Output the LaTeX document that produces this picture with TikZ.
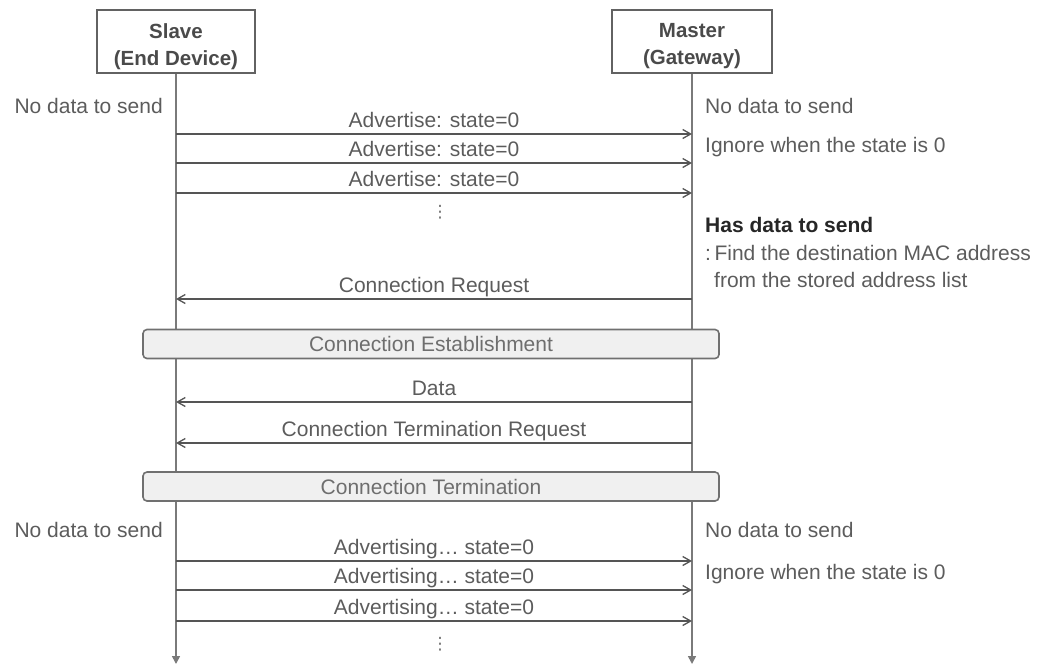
\documentclass[tikz,border=0pt]{standalone}
\usepackage{fontspec}
\setmainfont{Liberation Sans}
\newfontfamily\symfont{DejaVu Sans}
\usetikzlibrary{arrows.meta}
\definecolor{txt}{HTML}{5C5C5C}
\definecolor{hdrtext}{HTML}{4A4A4A}
\definecolor{hdrline}{HTML}{626262}
\definecolor{lifec}{HTML}{7A7A7A}
\definecolor{msgc}{HTML}{555555}
\definecolor{phaseline}{HTML}{707070}
\definecolor{phasefill}{HTML}{F0F0F0}
\definecolor{phasetext}{HTML}{6E6E6E}
\begin{document}
\begin{tikzpicture}[x=1pt,y=-1pt,
  every node/.style={font=\fontsize{21}{25}\selectfont, text=txt, inner sep=0pt},
  hdrbox/.style={draw=hdrline, line width=2pt, fill=white, minimum width=158pt, minimum height=63pt},
  hdrtxt/.style={align=center, font=\fontsize{20.5}{27}\selectfont\bfseries, text=hdrtext},
  lifeline/.style={draw=lifec, line width=1.6pt, -{Triangle[length=8pt,width=8pt]}},
  msgarrow/.style={draw=msgc, line width=1.3pt, -{Straight Barb[length=8pt,width=9pt]}},
  msglabel/.style={anchor=base, yshift=6.5pt},
  phasebox/.style={draw=phaseline, line width=1.6pt, fill=phasefill, rounded corners=4pt,
    minimum width=576pt, minimum height=29pt, text=phasetext},
  sidenote/.style={anchor=base west},
  vdots/.style={font=\symfont\fontsize{17}{17}\selectfont, text=txt!90}
]
\useasboundingbox (0,0) rectangle (1040,665);

% participants
\node[hdrbox] (slave) at (176,41.5) {};
\node[hdrtxt] (slavetitle) at (176,46.2) {Slave\\(End Device)};
\node[hdrbox, minimum width=160pt] (master) at (692,41.5) {};
\node[hdrtxt] (mastertitle) at (692,46.2) {Master\\(Gateway)};

% lifelines
\coordinate (slaveend) at (slave.south |- 0,664);
\coordinate (masterend) at (master.south |- 0,664);
\draw[lifeline] (slave.south) -- (slaveend);
\draw[lifeline] (master.south) -- (masterend);

% idle advertising
\node[sidenote, anchor=base east] (sidle1) at (163,113) {No data to send};
\node[sidenote] (midle1) at (705,113) {No data to send};
\node[sidenote] (mignore1) at (705,152) {Ignore when the state is 0};
\foreach \y in {134,163,193}
  \draw[msgarrow] (slave.south |- 0,\y) -- node[msglabel] {Advertise: state=0} (master.south |- 0,\y);
\node[vdots] (dots1) at (440,212) {⋮};

% master has data
\node[sidenote, font=\fontsize{21}{25}\selectfont\bfseries, text=black!85] (mdata) at (705,232) {Has data to send};
\node[sidenote] (mfind) at (705,260) {:\hspace{3.5pt}Find the destination MAC address};
\node[sidenote] (mfrom) at (714,287) {from the stored address list};
\draw[msgarrow] (master.south |- 0,299) -- node[msglabel] {Connection Request} (slave.south |- 0,299);

\node[phasebox] (establish) at (431,344) {Connection Establishment};

\draw[msgarrow] (master.south |- 0,402) -- node[msglabel] {Data} (slave.south |- 0,402);
\draw[msgarrow] (master.south |- 0,443) -- node[msglabel] {Connection Termination Request} (slave.south |- 0,443);

\node[phasebox] (terminate) at (431,486.5) {Connection Termination};

% back to idle
\node[sidenote, anchor=base east] (sidle2) at (163,537) {No data to send};
\node[sidenote] (midle2) at (705,537) {No data to send};
\node[sidenote] (mignore2) at (705,579) {Ignore when the state is 0};
\foreach \y in {561,590,621}
  \draw[msgarrow] (slave.south |- 0,\y) -- node[msglabel] {Advertising… state=0} (master.south |- 0,\y);
\node[vdots] (dots2) at (440,644) {⋮};
\end{tikzpicture}
\end{document}
